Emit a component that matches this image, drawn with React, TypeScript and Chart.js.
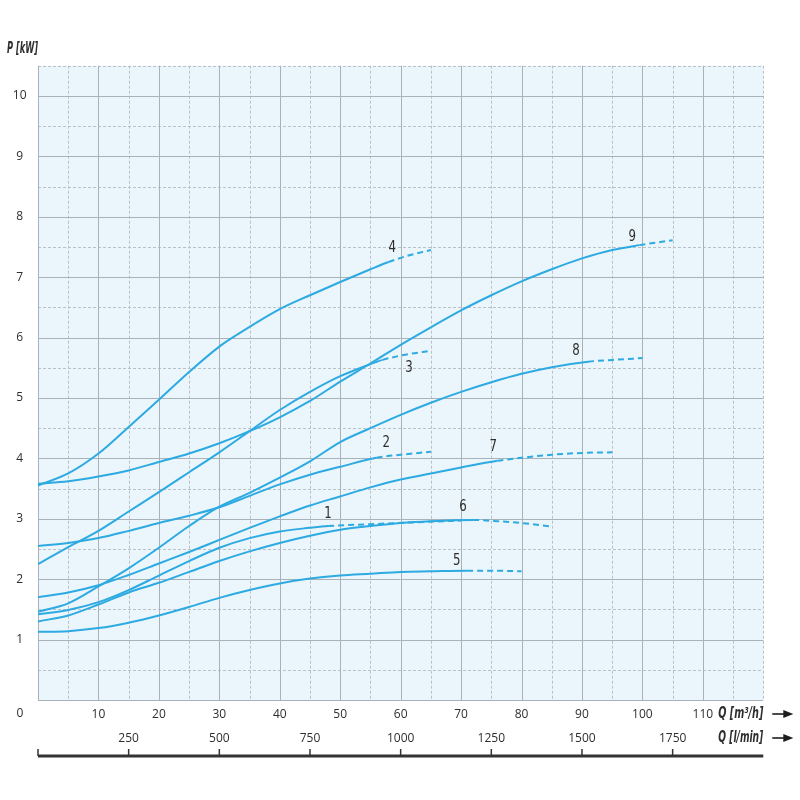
import React, { useEffect, useRef } from "react";
import { Chart, registerables } from "chart.js";

Chart.register(...registerables);

// ---- data ----
const curveNames = ["1", "2", "3", "4", "5", "6", "7", "8", "9"];

const q1 = [0, 5, 10, 15, 20, 25, 30, 35, 40, 45, 48, 55, 62, 70];
const p1 = [1.42, 1.49, 1.62, 1.82, 2.06, 2.3, 2.52, 2.68, 2.79, 2.85, 2.88, 2.91, 2.94, 2.97];

const q2 = [0, 5, 10, 15, 20, 25, 30, 35, 40, 45, 50, 56, 60, 65];
const p2 = [2.55, 2.6, 2.68, 2.8, 2.93, 3.05, 3.19, 3.38, 3.57, 3.73, 3.86, 4.01, 4.06, 4.11];

const q3 = [0, 5, 10, 15, 20, 25, 30, 35, 40, 45, 50, 55, 57, 61, 65];
const p3 = [2.25, 2.53, 2.8, 3.12, 3.44, 3.77, 4.1, 4.45, 4.8, 5.1, 5.36, 5.56, 5.63, 5.72, 5.78];

const q4 = [0, 5, 10, 15, 20, 25, 30, 33, 40, 45, 50, 55, 58, 61, 65];
const p4 = [3.55, 3.75, 4.08, 4.52, 4.97, 5.43, 5.85, 6.05, 6.47, 6.7, 6.92, 7.13, 7.25, 7.35, 7.45];

const q5 = [0, 5, 10, 15, 20, 25, 30, 35, 40, 45, 50, 55, 60, 65, 71, 76, 80];
const p5 = [1.13, 1.14, 1.19, 1.28, 1.4, 1.54, 1.69, 1.82, 1.93, 2.01, 2.06, 2.09, 2.12, 2.13, 2.14, 2.14, 2.13];

const q6 = [0, 5, 10, 15, 20, 25, 30, 35, 40, 45, 50, 55, 60, 65, 72, 76, 80, 85];
const p6 = [1.3, 1.4, 1.58, 1.78, 1.94, 2.12, 2.3, 2.46, 2.6, 2.72, 2.82, 2.88, 2.93, 2.96, 2.98, 2.96, 2.93, 2.87];

const q7 = [0, 5, 10, 15, 20, 25, 30, 35, 40, 45, 50, 55, 60, 65, 70, 76, 80, 85, 90, 95];
const p7 = [1.7, 1.78, 1.9, 2.07, 2.26, 2.45, 2.65, 2.85, 3.04, 3.22, 3.37, 3.52, 3.65, 3.75, 3.85, 3.96, 4.01, 4.06, 4.09, 4.1];

const q8 = [0, 5, 10, 15, 20, 25, 30, 35, 40, 45, 50, 55, 60, 65, 70, 75, 80, 85, 91, 95, 100];
const p8 = [1.46, 1.6, 1.88, 2.18, 2.52, 2.88, 3.2, 3.43, 3.68, 3.95, 4.27, 4.5, 4.72, 4.92, 5.1, 5.26, 5.4, 5.51, 5.6, 5.63, 5.66];

const q9 = [0, 5, 10, 15, 20, 25, 30, 35, 40, 45, 50, 55, 60, 65, 70, 75, 80, 85, 90, 95, 99.5, 105];
const p9 = [3.58, 3.62, 3.7, 3.8, 3.94, 4.08, 4.25, 4.45, 4.68, 4.95, 5.27, 5.57, 5.88, 6.17, 6.45, 6.7, 6.93, 7.13, 7.31, 7.45, 7.53, 7.61];

const curveQ = [q1, q2, q3, q4, q5, q6, q7, q8, q9];
const curveP = [p1, p2, p3, p4, p5, p6, p7, p8, p9];

// flow up to which each curve is drawn solid (dashed beyond)
const solidUntil = [48, 56, 57, 58, 71, 72, 76, 91, 99.5];

// curve label anchors (in chart units)
const labelQ = [48.0, 57.6, 61.4, 58.6, 69.3, 70.3, 75.3, 89.0, 98.3];
const labelP = [3.08, 4.25, 5.49, 7.48, 2.3, 3.2, 4.19, 5.78, 7.67];

// axes
const qMax = 120; // m3/h
const qMaxLmin = 2000; // l/min
const pMax = 10.5;
const lminTicks = [0, 250, 500, 750, 1000, 1250, 1500, 1750];

const CURVE_COLOR = "#2DAAE1";
const TEXT_COLOR = "#2e2e2e";
const TICK_FONT = { family: "'Open Sans', 'Noto Sans', sans-serif", size: 12 };
const NARROW = "'Liberation Sans Narrow', 'DejaVu Sans Condensed', 'Noto Sans', sans-serif";

// draws text horizontally condensed so that it fits a given width
function drawCondensed(ctx: any, text: string, x: number, y: number, width: number, align: "left" | "right" | "center") {
  const w = ctx.measureText(text).width;
  const sx = Math.min(1, width / w);
  ctx.save();
  ctx.translate(x, y);
  ctx.scale(sx, 1);
  ctx.textAlign = align;
  ctx.fillText(text, 0, 0);
  ctx.restore();
}

const decorPlugin = {
  id: "decor",
  beforeDatasetsDraw(chart: any) {
    const { ctx, chartArea: a, scales } = chart;
    const xs = scales.x;
    const ys = scales.y;
    ctx.save();
    ctx.fillStyle = "#EAF6FC";
    ctx.fillRect(a.left, a.top, a.right - a.left, a.bottom - a.top);

    const line = (x0: number, y0: number, x1: number, y1: number, solid: boolean) => {
      ctx.beginPath();
      ctx.strokeStyle = solid ? "#A9B1B9" : "#B9C0C6";
      ctx.lineWidth = 1;
      ctx.setLineDash(solid ? [] : [3, 2]);
      ctx.moveTo(x0, y0);
      ctx.lineTo(x1, y1);
      ctx.stroke();
    };
    for (let v = 0; v <= qMax + 1e-9; v += 5) {
      const solid = v % 10 === 0 && v < qMax;
      if (solid) continue;
      const px = Math.round(xs.getPixelForValue(v)) + 0.5;
      line(px, a.top, px, a.bottom, false);
    }
    for (let v = 0; v <= pMax + 1e-9; v += 0.5) {
      const solid = Number.isInteger(v) && v <= 10;
      if (solid) continue;
      const py = Math.round(ys.getPixelForValue(v)) + 0.5;
      line(a.left, py, a.right, py, false);
    }
    for (let v = 0; v < qMax; v += 10) {
      const px = Math.round(xs.getPixelForValue(v)) + 0.5;
      line(px, a.top, px, a.bottom, true);
    }
    for (let v = 0; v <= 10; v += 1) {
      const py = Math.round(ys.getPixelForValue(v)) + 0.5;
      line(a.left, py, a.right, py, true);
    }
    ctx.restore();
  },
  afterDraw(chart: any) {
    const { ctx, chartArea: a, scales } = chart;
    const xs = scales.x;
    const ys = scales.y;
    const x2 = scales.x2;
    ctx.save();
    ctx.setLineDash([]);

    // curve labels
    ctx.fillStyle = TEXT_COLOR;
    ctx.font = `15px ${NARROW}`;
    ctx.textBaseline = "middle";
    curveNames.forEach((n, i) => {
      drawCondensed(ctx, n, xs.getPixelForValue(labelQ[i]), ys.getPixelForValue(labelP[i]), 7.5, "center");
    });

    // "0" at origin corner
    ctx.font = `${TICK_FONT.size}px ${TICK_FONT.family}`;
    ctx.textAlign = "center";
    ctx.fillText("0", a.left - 18, a.bottom + 14);

    // axis titles
    ctx.font = `italic bold 16px ${NARROW}`;
    drawCondensed(ctx, "P [kW]", 7, 49, 31, "left");
    const row1 = a.bottom + 14;
    const row2 = a.bottom + 38;
    drawCondensed(ctx, "Q [m³/h]", a.right, row1, 45, "right");
    drawCondensed(ctx, "Q [l/min]", a.right, row2, 45, "right");

    // arrows
    const arrow = (y: number) => {
      const x0 = a.right + 9;
      const x1 = a.right + 30;
      ctx.strokeStyle = "#1e1e1e";
      ctx.lineWidth = 1.6;
      ctx.beginPath();
      ctx.moveTo(x0, y);
      ctx.lineTo(x1 - 6, y);
      ctx.stroke();
      ctx.fillStyle = "#1e1e1e";
      ctx.beginPath();
      ctx.moveTo(x1, y);
      ctx.lineTo(x1 - 10, y - 4);
      ctx.lineTo(x1 - 10, y + 4);
      ctx.closePath();
      ctx.fill();
    };
    arrow(row1);
    arrow(row2);

    // second (l/min) axis line with ticks
    const ly = a.bottom + 56;
    ctx.strokeStyle = "#333333";
    ctx.lineWidth = 3;
    ctx.beginPath();
    ctx.moveTo(a.left, ly);
    ctx.lineTo(a.right, ly);
    ctx.stroke();
    ctx.lineWidth = 1.5;
    lminTicks.forEach((v) => {
      const px = x2.getPixelForValue(v);
      ctx.beginPath();
      ctx.moveTo(px, ly);
      ctx.lineTo(px, ly - 7);
      ctx.stroke();
    });
    ctx.restore();
  },
};

export default function App() {
  const ref = useRef<HTMLCanvasElement | null>(null);

  useEffect(() => {
    if (!ref.current) return;
    const datasets = curveQ.map((qs, i) => ({
      label: curveNames[i],
      data: qs.map((q, j) => ({ x: q, y: curveP[i][j] })),
      borderColor: CURVE_COLOR,
      backgroundColor: CURVE_COLOR,
      borderWidth: 2,
      pointRadius: 0,
      fill: false,
      cubicInterpolationMode: "monotone" as const,
      segment: {
        borderDash: (c: any) => (qs[c.p0DataIndex] >= solidUntil[i] - 1e-6 ? [6, 4] : undefined),
      },
    }));

    const chart = new Chart(ref.current, {
      type: "line",
      data: { datasets },
      options: {
        animation: false,
        responsive: false,
        maintainAspectRatio: false,
        layout: { padding: { top: 65.7, right: 36.7, left: 0, bottom: 0 } },
        plugins: { legend: { display: false }, tooltip: { enabled: false } },
        scales: {
          x: {
            type: "linear",
            position: "bottom",
            weight: 0,
            min: 0,
            max: qMax,
            grid: { display: false, drawTicks: false },
            border: { display: false },
            ticks: {
              stepSize: 10,
              autoSkip: false,
              maxRotation: 0,
              padding: 7,
              color: TEXT_COLOR,
              font: TICK_FONT,
              callback: (v: any) => (v > 0 && v <= 110 ? String(v) : ""),
            },
            afterFit: (s: any) => {
              s.height = 24;
            },
          },
          x2: {
            type: "linear",
            position: "bottom",
            weight: 1,
            min: 0,
            max: qMaxLmin,
            grid: { display: false, drawTicks: false },
            border: { display: false },
            ticks: {
              stepSize: 250,
              autoSkip: false,
              maxRotation: 0,
              padding: 7,
              color: TEXT_COLOR,
              font: TICK_FONT,
              callback: (v: any) => (v > 0 && v < qMaxLmin ? String(v) : ""),
            },
            afterFit: (s: any) => {
              s.height = 76;
            },
          },
          y: {
            type: "linear",
            position: "left",
            min: 0,
            max: pMax,
            grid: { display: false, drawTicks: false },
            border: { display: false },
            ticks: {
              stepSize: 1,
              autoSkip: false,
              crossAlign: "center",
              padding: 11.5,
              color: TEXT_COLOR,
              font: TICK_FONT,
              callback: (v: any) => (v >= 1 && v <= 10 && Number.isInteger(v) ? String(v) : ""),
            },
            afterFit: (s: any) => {
              s.width = 38;
            },
          },
        },
      },
      plugins: [decorPlugin],
    });
    return () => chart.destroy();
  }, []);

  return (
    <div style={{ position: "fixed", left: 0, top: 0, width: 800, height: 800, background: "#ffffff" }}>
      <canvas ref={ref} width={800} height={800} style={{ display: "block" }} />
    </div>
  );
}
